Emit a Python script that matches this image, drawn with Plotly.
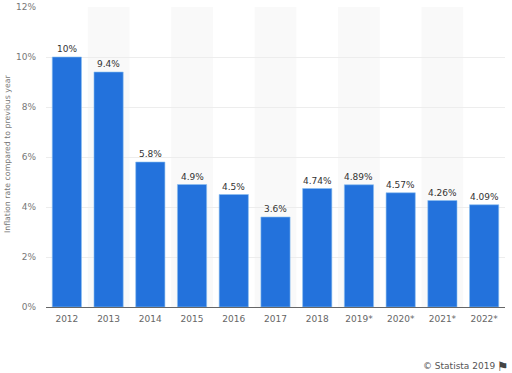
import plotly.graph_objects as go

years = ["2012", "2013", "2014", "2015", "2016", "2017", "2018", "2019*", "2020*", "2021*", "2022*"]
values = [10, 9.4, 5.8, 4.9, 4.5, 3.6, 4.74, 4.89, 4.57, 4.26, 4.09]
labels = ["10%", "9.4%", "5.8%", "4.9%", "4.5%", "3.6%", "4.74%", "4.89%", "4.57%", "4.26%", "4.09%"]
y_ticks = [0, 2, 4, 6, 8, 10, 12]
y_tick_labels = ["0%", "2%", "4%", "6%", "8%", "10%", "12%"]
shaded = [1, 3, 5, 7, 9]
y_title = "Inflation rate compared to previous year"
credit = "© Statista 2019"
flag = "⚑"

xs = list(range(len(years)))
fig = go.Figure(go.Bar(
    x=xs, y=values, width=0.7,
    marker=dict(color="#2372DC", line=dict(color="#8CC0F0", width=0.6)),
))
shapes = [dict(type="rect", xref="x", yref="paper", x0=i - 0.5, x1=i + 0.5, y0=0, y1=1,
               fillcolor="#F9F9F9", line_width=0, layer="below") for i in shaded]
annotations = [dict(x=x, y=v, text=t, xref="x", yref="y", showarrow=False, yanchor="bottom", yshift=1,
                    font=dict(size=9, color="#333333"))
               for x, v, t in zip(xs, values, labels)]
annotations += [
    dict(text=y_title, xref="paper", yref="paper", x=-0.085, y=0.513, textangle=-90,
         xanchor="center", yanchor="middle", showarrow=False,
         font=dict(size=7.8, color="#777777")),
    dict(text=credit, xref="paper", yref="paper", x=0.983, y=-0.197,
         xanchor="right", yanchor="middle", showarrow=False,
         font=dict(size=9, color="#555555")),
    dict(text=flag, xref="paper", yref="paper", x=1.012, y=-0.197,
         xanchor="right", yanchor="middle", showarrow=False,
         font=dict(size=13, color="#444444")),
]
fig.update_layout(
    width=512, height=373, autosize=False, margin=dict(l=46, r=7, t=7, b=66),
    paper_bgcolor="white", plot_bgcolor="white", showlegend=False, shapes=shapes,
    annotations=annotations,
    font=dict(family="DejaVu Sans", color="#6E6E6E"),
    xaxis=dict(tickmode="array", tickvals=xs, ticktext=years, automargin=False,
               range=[-0.5, 10.5], showgrid=False, ticks="", zeroline=False,
               showline=True, linecolor="#666666", linewidth=1, ticklabelstandoff=3,
               tickfont=dict(size=9, color="#666666")),
    yaxis=dict(tickmode="array", tickvals=y_ticks, ticktext=y_tick_labels, range=[0, 12],
               automargin=False, gridcolor="#EDEDED", gridwidth=1, zeroline=False, ticks="",
               ticklabelstandoff=9, tickfont=dict(size=9, color="#777777")),
)
fig.write_html("out.html", config={"displayModeBar": False},
               post_script="document.body.style.margin='0';document.body.style.overflow='hidden';")
